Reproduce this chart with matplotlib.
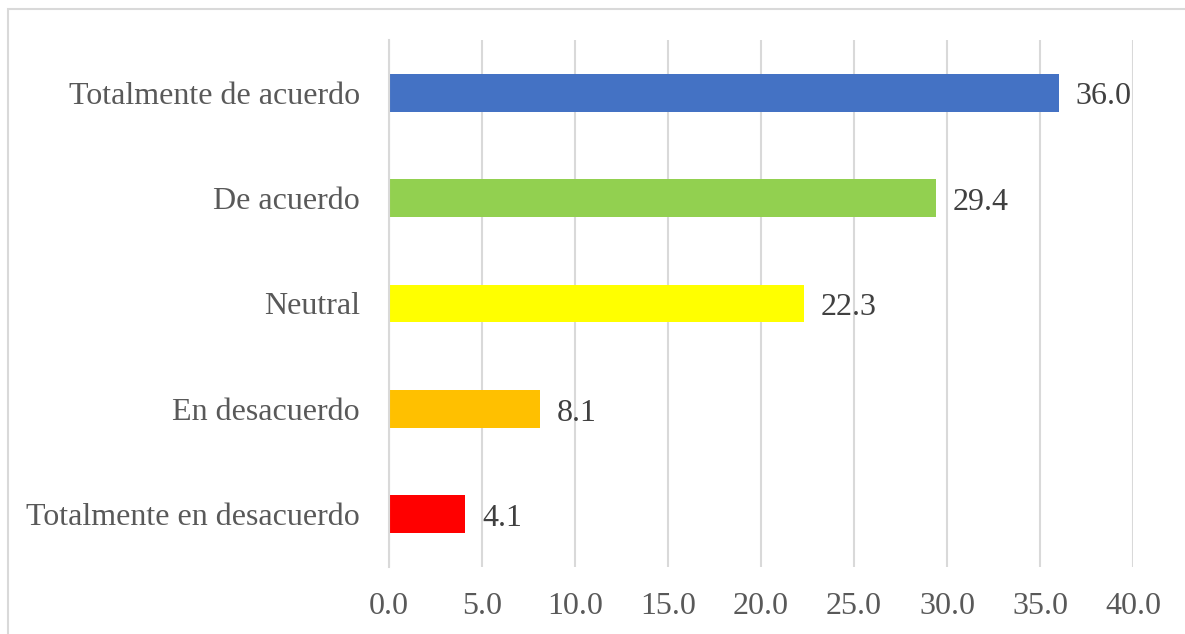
import matplotlib.pyplot as plt
from matplotlib.patches import Rectangle

categories = ["Totalmente en desacuerdo", "En desacuerdo", "Neutral",
              "De acuerdo", "Totalmente de acuerdo"]
values = [4.1, 8.1, 22.3, 29.4, 36.0]
colors = ["#FF0000", "#FFC000", "#FFFF00", "#92D050", "#4472C4"]
xticks = [0, 5, 10, 15, 20, 25, 30, 35, 40]

plt.rcParams["font.family"] = ["Liberation Serif", "DejaVu Serif"]

fig = plt.figure(figsize=(11.85, 6.34), dpi=100)
ax = fig.add_axes([389 / 1185, 1 - 567 / 634, 744 / 1185, 527 / 634])

# outer chart frame
fig.patches.append(Rectangle((8 / 1185, -0.1), 1.2, 1 - 9 / 634 + 0.1,
                             transform=fig.transFigure, fill=False,
                             edgecolor="#D9D9D9", linewidth=1.5))

ypos = list(range(len(categories)))
bars = ax.barh(ypos, values, height=0.36, color=colors, zorder=3)

for y, v in zip(ypos, values):
    ax.annotate(f"{v:.1f}", xy=(v, y), xytext=(12, -3), textcoords="offset points",
                va="center", ha="left", fontsize=23, color="#404040")

ax.set_xlim(0, 40)
ax.set_ylim(-0.5, 4.5)
ax.set_xticks(xticks)
ax.set_xticklabels([f"{t:.1f}" for t in xticks])
ax.set_yticks(ypos)
ax.set_yticklabels(categories)
ax.tick_params(axis="both", length=0, labelsize=23, labelcolor="#595959")
ax.tick_params(axis="x", pad=18)
ax.tick_params(axis="y", pad=21)

ax.grid(axis="x", color="#D9D9D9", linewidth=1.5, zorder=0)
for s in ["top", "right", "bottom"]:
    ax.spines[s].set_visible(False)
ax.spines["left"].set_color("#D9D9D9")
ax.spines["left"].set_linewidth(1.5)
ax.spines["left"].set_zorder(4)

fig.savefig("out.png", dpi=100)
